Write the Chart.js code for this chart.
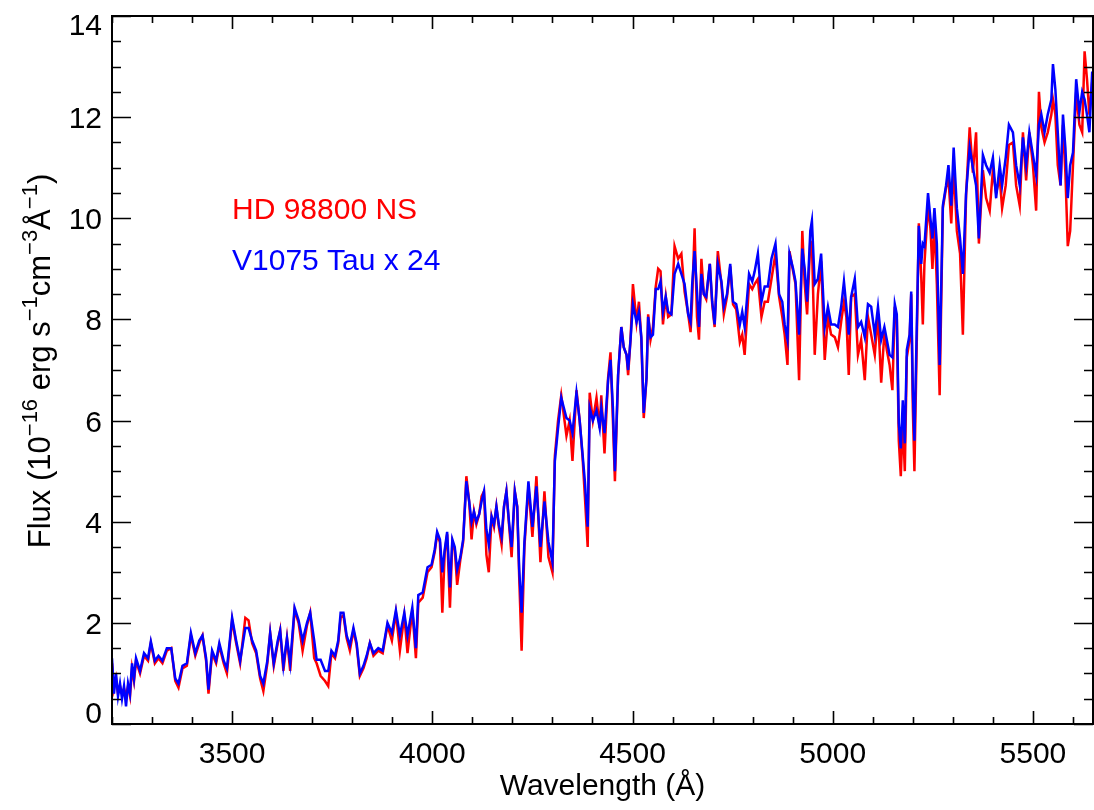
<!DOCTYPE html>
<html>
<head>
<meta charset="utf-8">
<title>HD 98800 NS vs V1075 Tau</title>
<script src="https://cdn.jsdelivr.net/npm/chart.js@4.4.1/dist/chart.umd.min.js"></script>
<style>
  html, body { margin: 0; padding: 0; background: #fff; }
  canvas { display: block; }
</style>
</head>
<body>
<canvas id="specChart" width="1094" height="810"></canvas>
<script>
// Wavelength grid (Angstrom) shared by both spectra
const wavelength = [
  3200, 3205, 3210, 3215, 3220, 3225, 3230, 3235, 3240, 3245, 3250, 3255, 3260, 3270, 3280, 3290, 3297, 3307, 3316, 3326,
  3337, 3348, 3358, 3366, 3376, 3387, 3397, 3408, 3418, 3426, 3435, 3441, 3450, 3460, 3468, 3479, 3487, 3500, 3510, 3520,
  3533, 3541, 3550, 3560, 3570, 3578, 3588, 3595, 3604, 3614, 3620, 3628, 3637, 3645, 3656, 3666, 3676, 3687, 3695, 3705,
  3711, 3721, 3732, 3740, 3748, 3757, 3765, 3771, 3778, 3786, 3794, 3803, 3811, 3819, 3828, 3836, 3844, 3853, 3865, 3876,
  3888, 3899, 3909, 3919, 3930, 3938, 3950, 3959, 3965, 3976, 3988, 3998, 4006, 4012, 4019, 4025, 4031, 4037, 4044, 4050,
  4056, 4062, 4070, 4077, 4085, 4092, 4098, 4104, 4110, 4117, 4123, 4129, 4135, 4141, 4148, 4154, 4160, 4166, 4173, 4179,
  4185, 4192, 4198, 4206, 4212, 4217, 4223, 4230, 4240, 4250, 4260, 4270, 4280, 4290, 4300, 4306, 4314, 4322, 4335, 4343,
  4350, 4360, 4368, 4375, 4381, 4388, 4393, 4401, 4410, 4418, 4422, 4430, 4439, 4445, 4451, 4456, 4464, 4472, 4478, 4485,
  4489, 4495, 4501, 4510, 4516, 4522, 4528, 4535, 4539, 4545, 4551, 4558, 4564, 4570, 4576, 4583, 4589, 4597, 4605, 4614,
  4622, 4630, 4639, 4645, 4649, 4655, 4661, 4666, 4672, 4678, 4684, 4693, 4699, 4705, 4713, 4722, 4728, 4736, 4744, 4751,
  4759, 4768, 4774, 4780, 4791, 4799, 4805, 4813, 4822, 4830, 4838, 4847, 4857, 4866, 4874, 4880, 4887, 4892, 4901, 4907,
  4916, 4924, 4930, 4936, 4944, 4948, 4955, 4963, 4971, 4980, 4988, 4996, 5005, 5013, 5021, 5028, 5034, 5040, 5046, 5055,
  5063, 5071, 5080, 5088, 5096, 5105, 5113, 5121, 5129, 5135, 5142, 5149, 5155, 5160, 5165, 5170, 5175, 5180, 5185, 5192,
  5196, 5200, 5204, 5210, 5215, 5221, 5225, 5229, 5238, 5244, 5249, 5254, 5260, 5267, 5275, 5283, 5289, 5296, 5302, 5310,
  5318, 5325, 5333, 5342, 5350, 5358, 5365, 5375, 5383, 5392, 5400, 5408, 5417, 5423, 5432, 5440, 5450, 5458, 5467, 5475,
  5483, 5491, 5500, 5508, 5515, 5521, 5529, 5537, 5546, 5550, 5556, 5562, 5569, 5575, 5581, 5587, 5593, 5600, 5608, 5616,
  5623, 5629, 5635, 5641, 5648, 5650
];

// HD 98800 NS flux (1e-16 erg s^-1 cm^-3 A^-1)
const fluxHD98800 = [
  1.2, 0.7, 0.9, 0.6, 0.75, 0.6, 0.7, 0.55, 0.75, 0.55, 1.1, 0.85, 1.25, 1.0, 1.35, 1.25, 1.6, 1.2, 1.3, 1.2,
  1.45, 1.5, 0.85, 0.72, 1.1, 1.15, 1.75, 1.35, 1.6, 1.75, 1.25, 0.6, 1.4, 1.2, 1.55, 1.2, 1.0, 2.05, 1.6, 1.2,
  2.1, 2.05, 1.6, 1.4, 0.9, 0.65, 1.2, 1.8, 1.15, 1.6, 1.85, 1.05, 1.7, 1.05, 2.25, 2.0, 1.45, 1.95, 2.2, 1.3,
  1.2, 0.95, 0.85, 0.75, 1.4, 1.3, 1.6, 2.1, 2.15, 1.7, 1.45, 1.85, 1.55, 0.95, 1.1, 1.3, 1.6, 1.35, 1.45, 1.4,
  1.95, 1.65, 2.2, 1.45, 2.15, 1.4, 2.25, 1.3, 2.4, 2.5, 3.0, 3.1, 3.4, 3.75, 3.6, 2.2, 3.4, 3.75, 2.3, 3.6,
  3.45, 2.75, 3.25, 3.6, 4.9, 4.4, 3.65, 4.2, 3.95, 4.15, 4.5, 4.6, 3.35, 3.0, 4.1, 3.9, 4.3, 3.9, 3.55, 4.3,
  4.6, 3.9, 3.3, 4.6, 4.3, 2.9, 1.45, 3.5, 4.7, 3.7, 4.9, 3.2, 4.6, 3.3, 3.0, 5.3, 6.0, 6.5, 5.7, 6.0,
  5.2, 6.6, 6.0, 5.3, 4.5, 3.5, 6.55, 6.0, 6.45, 5.85, 6.5, 5.35, 6.85, 7.35, 6.0, 4.8, 6.9, 7.85, 7.45, 7.3,
  6.9, 7.6, 8.7, 7.95, 8.35, 7.6, 6.05, 6.85, 8.1, 7.6, 7.85, 8.65, 9.0, 8.95, 7.9, 8.45, 8.05, 8.1, 9.45, 9.2,
  9.3, 8.55, 8.1, 7.75, 8.4, 9.8, 8.05, 7.6, 9.2, 8.5, 8.4, 9.1, 8.3, 7.85, 9.35, 8.7, 8.1, 8.45, 9.05, 8.3,
  8.2, 7.55, 7.7, 7.3, 8.7, 8.6, 8.7, 8.8, 8.05, 8.35, 8.35, 8.8, 9.3, 8.45, 8.05, 7.7, 7.1, 9.35, 8.95, 8.7,
  6.8, 9.75, 8.7, 8.1, 9.55, 9.5, 7.3, 8.5, 9.15, 7.2, 8.05, 7.7, 7.65, 7.45, 7.95, 8.35, 8.05, 6.9, 8.45, 8.5,
  7.3, 7.6, 6.8, 8.05, 7.7, 7.3, 8.1, 6.75, 7.75, 7.4, 7.1, 6.6, 8.25, 8.0, 5.6, 4.9, 6.0, 5.0, 7.25, 7.6,
  8.5, 6.25, 5.0, 7.6, 9.9, 8.85, 7.9, 9.1, 10.25, 9.8, 9.0, 9.95, 8.7, 6.5, 10.2, 10.6, 10.8, 9.9, 11.05, 9.75,
  9.3, 7.7, 10.45, 11.8, 10.9, 11.7, 9.5, 10.95, 10.4, 10.15, 10.95, 10.5, 10.8, 10.2, 10.65, 11.45, 11.5, 10.65, 10.25, 11.7,
  10.75, 11.7, 11.05, 10.15, 12.5, 11.8, 11.5, 11.7, 12.05, 12.35, 12.05, 11.05, 10.65, 11.85, 10.9, 9.45, 9.75, 11.05, 12.5, 11.85,
  11.7, 13.3, 12.75, 12.05, 12.7, 12.4
];

// V1075 Tau flux, scaled x 24
const fluxV1075Tau = [
  1.3, 0.6, 1.0, 0.55, 0.8, 0.5, 0.75, 0.35, 0.8, 0.6, 1.2, 0.9, 1.3, 1.05, 1.4, 1.3, 1.63, 1.25, 1.35, 1.25,
  1.5, 1.5, 0.9, 0.8, 1.15, 1.2, 1.8, 1.4, 1.65, 1.75, 1.3, 0.68, 1.45, 1.25, 1.6, 1.25, 1.1, 2.1, 1.65, 1.25,
  1.9, 1.9, 1.65, 1.45, 0.95, 0.8, 1.25, 1.8, 1.2, 1.65, 1.85, 1.15, 1.7, 1.2, 2.3, 2.05, 1.65, 2.0, 2.2, 1.65,
  1.27, 1.27, 1.05, 1.05, 1.45, 1.35, 1.65, 2.2, 2.2, 1.75, 1.55, 1.9, 1.6, 1.0, 1.15, 1.35, 1.6, 1.4, 1.5, 1.45,
  2.0, 1.8, 2.25, 1.75, 2.2, 1.75, 2.3, 1.5, 2.55, 2.6, 3.1, 3.15, 3.45, 3.8, 3.65, 3.0, 3.45, 3.8, 2.7, 3.65,
  3.5, 3.05, 3.3, 3.65, 4.8, 4.4, 4.0, 4.2, 4.0, 4.15, 4.4, 4.6, 3.85, 3.55, 4.1, 3.95, 4.3, 3.95, 3.7, 4.3,
  4.6, 3.95, 3.5, 4.6, 4.3, 3.05, 2.2, 3.6, 4.8, 3.9, 4.7, 3.5, 4.4, 3.6, 3.2, 5.2, 5.85, 6.45, 6.05, 6.0,
  5.75, 6.55, 6.0, 5.35, 4.8, 3.9, 6.25, 6.0, 6.2, 5.85, 6.25, 5.75, 6.8, 7.2, 6.25, 5.0, 6.9, 7.85, 7.45, 7.3,
  7.0, 7.6, 8.3, 7.95, 8.15, 7.65, 6.15, 6.85, 8.05, 7.65, 7.7, 8.6, 8.6, 8.75, 8.15, 8.45, 8.15, 8.1, 8.9, 9.1,
  8.9, 8.7, 8.1, 7.95, 8.7, 9.35, 8.55, 7.85, 8.9, 8.5, 8.45, 9.1, 8.35, 7.9, 9.1, 8.75, 8.25, 8.5, 9.1, 8.35,
  8.3, 7.9, 8.15, 7.85, 8.9, 8.75, 8.95, 9.3, 8.35, 8.65, 8.65, 9.2, 9.5, 8.5, 8.35, 7.9, 7.6, 9.3, 9.0, 8.75,
  7.7, 9.4, 9.0, 8.35, 9.75, 9.95, 8.7, 8.8, 9.3, 7.85, 8.25, 7.9, 7.9, 7.85, 8.25, 8.75, 8.25, 7.7, 8.45, 8.8,
  7.85, 7.95, 7.65, 8.3, 8.25, 7.7, 8.25, 7.6, 7.85, 7.6, 7.3, 7.25, 8.3, 8.1, 5.95, 5.45, 6.4, 5.55, 7.4, 7.7,
  8.55, 6.6, 5.6, 7.9, 9.85, 9.1, 9.5, 9.45, 10.5, 10.0, 9.6, 10.2, 9.5, 7.1, 10.25, 10.65, 11.05, 10.25, 11.4, 10.2,
  9.6, 8.9, 10.5, 11.4, 11.0, 10.65, 9.6, 11.25, 11.05, 10.9, 11.2, 10.4, 11.05, 10.65, 11.2, 11.85, 11.7, 11.05, 10.65, 11.6,
  11.05, 11.7, 11.25, 10.85, 11.85, 12.05, 11.7, 12.05, 12.35, 13.05, 12.55, 11.7, 10.65, 12.05, 11.4, 10.4, 11.05, 11.3, 12.75, 12.1,
  12.5, 12.35, 12.05, 11.7, 12.9, 12.6
];

const seriesNames = ['HD 98800 NS', 'V1075 Tau x 24'];
const seriesColors = ['#ff0000', '#0000ff'];

// axis ticks
const xMajorTicks = [3500, 4000, 4500, 5000, 5500];
const xMinorStep = 100;
const yMajorTicks = [0, 2, 4, 6, 8, 10, 12, 14];
const yMinorStep = 0.5;

const FONT = '"Liberation Sans", Arial, Helvetica, sans-serif';

function toPoints(xs, ys) {
  return xs.map((x, i) => ({ x: x, y: ys[i] }));
}

// IDL-style box with inward ticks on all four sides, labels and annotations
const boxAxes = {
  id: 'boxAxes',
  afterDatasetsDraw(chart) {
    const ctx = chart.ctx;
    const a = chart.chartArea;
    const xs = chart.scales.x;
    const ys = chart.scales.y;

    ctx.save();
    ctx.strokeStyle = '#000';
    ctx.lineWidth = 1.6;

    // minor + major ticks along x (bottom and top)
    for (let v = xs.min; v <= xs.max + 1e-6; v += xMinorStep) {
      const px = Math.round(xs.getPixelForValue(v)) + 0.5;
      const len = xMajorTicks.includes(v) ? 13 : 7;
      ctx.beginPath();
      ctx.moveTo(px, a.bottom); ctx.lineTo(px, a.bottom - len);
      ctx.moveTo(px, a.top); ctx.lineTo(px, a.top + len);
      ctx.stroke();
    }
    // minor + major ticks along y (left and right)
    for (let v = ys.min; v <= ys.max + 1e-6; v += yMinorStep) {
      const py = Math.round(ys.getPixelForValue(v)) + 0.5;
      const len = yMajorTicks.includes(v) ? 19 : 9;
      ctx.beginPath();
      ctx.moveTo(a.left, py); ctx.lineTo(a.left + len, py);
      ctx.moveTo(a.right, py); ctx.lineTo(a.right - len, py);
      ctx.stroke();
    }

    // frame
    ctx.lineWidth = 2;
    ctx.strokeRect(a.left, a.top, a.right - a.left, a.bottom - a.top);

    // tick labels
    ctx.fillStyle = '#000';
    ctx.font = '30px ' + FONT;
    ctx.textAlign = 'center';
    ctx.textBaseline = 'alphabetic';
    xMajorTicks.forEach(v => {
      ctx.fillText(String(v), xs.getPixelForValue(v), 763);
    });
    ctx.textAlign = 'right';
    yMajorTicks.forEach(v => {
      const py = ys.getPixelForValue(v);
      const base = Math.min(Math.max(py + 11, a.top + 19), a.bottom - 1);
      ctx.fillText(String(v), 102, base);
    });

    // x title
    ctx.textAlign = 'center';
    ctx.fillText('Wavelength (\u00C5)', (a.left + a.right) / 2, 795);

    // y title with superscripts, drawn rotated
    const parts = [
      ['Flux (10', false], ['\u221216', true], [' erg s', false], ['\u22121', true],
      ['cm', false], ['\u22123', true], ['\u00C5', false], ['\u22121', true], [')', false]
    ];
    const big = '31px ' + FONT;
    const small = '22px ' + FONT;
    let total = 0;
    parts.forEach(p => {
      ctx.font = p[1] ? small : big;
      total += ctx.measureText(p[0]).width;
    });
    ctx.save();
    ctx.translate(50, 361);
    ctx.rotate(-Math.PI / 2);
    ctx.textAlign = 'left';
    let cx = -total / 2;
    parts.forEach(p => {
      ctx.font = p[1] ? small : big;
      ctx.fillText(p[0], cx, p[1] ? -13 : 0);
      cx += ctx.measureText(p[0]).width;
    });
    ctx.restore();

    // legend text
    ctx.textAlign = 'left';
    ctx.font = '30px ' + FONT;
    ctx.fillStyle = seriesColors[0];
    ctx.fillText(seriesNames[0], 232, 219);
    ctx.fillStyle = seriesColors[1];
    ctx.fillText(seriesNames[1], 232, 270);

    ctx.restore();
  }
};

const ctx = document.getElementById('specChart').getContext('2d');
new Chart(ctx, {
  type: 'line',
  data: {
    datasets: [
      {
        label: seriesNames[0],
        data: toPoints(wavelength, fluxHD98800),
        borderColor: seriesColors[0],
        borderWidth: 2.5,
        pointRadius: 0,
        tension: 0,
        order: 2
      },
      {
        label: seriesNames[1],
        data: toPoints(wavelength, fluxV1075Tau),
        borderColor: seriesColors[1],
        borderWidth: 2.5,
        pointRadius: 0,
        tension: 0,
        order: 1
      }
    ]
  },
  options: {
    responsive: false,
    animation: false,
    devicePixelRatio: 1,
    layout: { padding: { left: 112, top: 16, right: 1, bottom: 86 } },
    plugins: {
      legend: { display: false },
      tooltip: { enabled: false }
    },
    scales: {
      x: { type: 'linear', min: 3200, max: 5650, display: false },
      y: { type: 'linear', min: 0, max: 14, display: false }
    }
  },
  plugins: [boxAxes]
});
</script>
</body>
</html>
